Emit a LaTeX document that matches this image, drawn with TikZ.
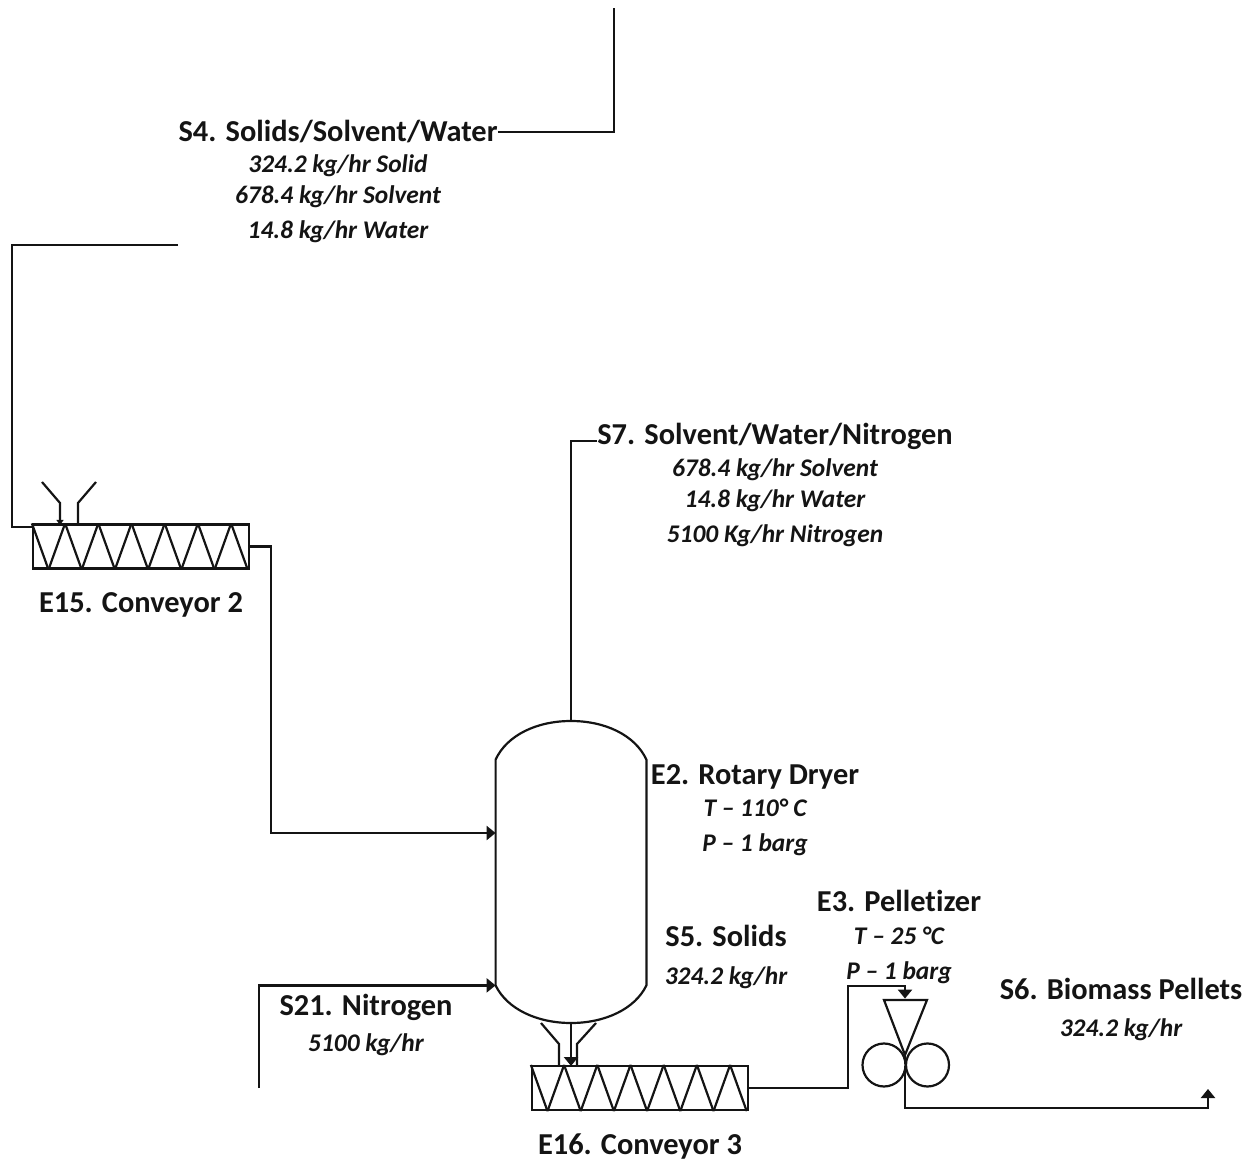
\documentclass[tikz,border=0pt]{standalone}
\usepackage{fontspec}
\setmainfont[Ligatures=NoCommon]{Carlito}
\usetikzlibrary{positioning, arrows.meta}
\definecolor{pidblack}{RGB}{20, 20, 20}

\begin{document}
\begin{tikzpicture}[
    x=0.5pt, y=-0.5pt,
    line/.style={draw=pidblack, line width=1.1pt, line join=miter},
    arrow/.style={line, -{Triangle[length=4.5pt, width=7pt]}},
    title/.style={anchor=base, inner sep=0pt, text=pidblack, font=\fontsize{15.2}{17}\selectfont\bfseries},
    rate/.style={anchor=base, inner sep=0pt, text=pidblack, font=\fontsize{12.7}{15}\selectfont\bfseries\itshape},
    conveyor/.style={rectangle, line, minimum width=108pt, minimum height=22pt, inner sep=0pt},
    vessel/.style={rectangle, minimum width=75pt, minimum height=112.5pt, inner sep=0pt},
    roller/.style={circle, line, minimum size=21.5pt, inner sep=0pt}
  ]
    \useasboundingbox (0,0) rectangle (1254,1160);

    % equipment
    \node[conveyor] (conva) at (141,546.5) {};
    \node[conveyor] (convb) at (640,1088) {};
    \node[vessel] (dryer) at (571,872.5) {};
    \node[roller] (rolla) at (884,1065) {};
    \node[roller] (rollb) at (927.5,1065) {};

    \foreach \conv in {conva, convb} {
      \foreach \i in {0,...,6}
        \draw[line] ([xshift=\i*16.6pt]\conv.north west) -- ([xshift=\i*16.6pt+8.3pt]\conv.south west);
      \foreach \i in {0,...,5}
        \draw[line] ([xshift=\i*16.6pt+8.3pt]\conv.south west) -- ([xshift=\i*16.6pt+16.6pt]\conv.north west);
    }

    \draw[line] (dryer.north west) .. controls (507,735) and (537,721) .. (571,721)
                .. controls (605,721) and (635,735) .. (dryer.north east)
                -- (dryer.south east) .. controls (635,1009) and (605,1023) .. (571,1023)
                .. controls (537,1023) and (507,1009) .. (dryer.south west) -- cycle;

    % hoppers
    \draw[line, -{Triangle[length=2.5pt, width=3.5pt]}] (42,482) -- (60,503) -- (60,525);
    \draw[line] (96,482) -- (78,503) -- (78,525);
    \draw[line] (541,1023) -- (559,1044) -- (559,1066);
    \draw[line] (596,1023) -- (577,1044) -- (577,1066);

    % pelletizer
    \node[inner sep=0pt] (feed) at (905,1000) {};
    \node[inner sep=0pt] (nip) at (905,1065) {};
    \draw[line] (884,1000) -- (927,1000) -- (905,1055) -- cycle;
    \draw[line] (905,1055) -- (nip);

    % labels
    \node[title] (s4) at (338,142) {S4. Solids/Solvent/Water};
    \node[rate] (s4a) at (338,173) {324.2 kg/hr Solid};
    \node[rate] (s4b) at (338,204) {678.4 kg/hr Solvent};
    \node[rate] (s4c) at (338,239) {14.8 kg/hr Water};
    \node[title] (e15) at (141,613) {E15. Conveyor 2};
    \node[title] (s7) at (775,445) {S7. Solvent/Water/Nitrogen};
    \node[rate] (s7a) at (775,477) {678.4 kg/hr Solvent};
    \node[rate] (s7b) at (775,508) {14.8 kg/hr Water};
    \node[rate] (s7c) at (775,543) {5100 Kg/hr Nitrogen};
    \node[title] (e2) at (755,784) {E2. Rotary Dryer};
    \node[rate] (e2a) at (755,816) {T – 110° C};
    \node[rate] (e2b) at (755,851) {P – 1 barg};
    \node[title] (s5) at (726,946) {S5. Solids};
    \node[rate] (s5a) at (726,984) {324.2 kg/hr};
    \node[title] (e3) at (899,911) {E3. Pelletizer};
    \node[rate] (e3a) at (899,944) {T – 25 °C};
    \node[rate] (e3b) at (899,979) {P – 1 barg};
    \node[title] (s6) at (1121,999) {S6. Biomass Pellets};
    \node[rate] (s6a) at (1121,1036) {324.2 kg/hr};
    \node[title] (s21) at (366,1015) {S21. Nitrogen};
    \node[rate] (s21a) at (366,1051) {5100 kg/hr};
    \node[title] (e16) at (640,1154) {E16. Conveyor 3};

    % free ends
    \coordinate (topend) at (614,8);
    \coordinate (s4return) at (178,245);
    \coordinate (n2start) at (259,1088);
    \coordinate (pelletout) at (1208,1089);

    % streams
    \draw[line] (s4.east) -- (topend |- s4.east) -- (topend);
    \draw[line] (s4return) -- (12,245) -- (12,527) -- (conva.north west |- 12,527);
    \draw[arrow] (conva.east) -- (271,546.5) -- (271,833) -- (dryer.west |- 271,833);
    \draw[line] (571,721) -- (571,441) -- (s7.west |- 571,441);
    \draw[arrow] (n2start) -- (n2start |- dryer.south west) -- (dryer.south west);
    \draw[arrow] (571,1023) -- (571,1066);
    \draw[arrow] (convb.east) -- (848,1088) -- (848,986) -- (905,986) -- (feed);
    \draw[arrow] (nip) -- (905,1108) -- (1208,1108) -- (pelletout);
  \end{tikzpicture}
\end{document}
